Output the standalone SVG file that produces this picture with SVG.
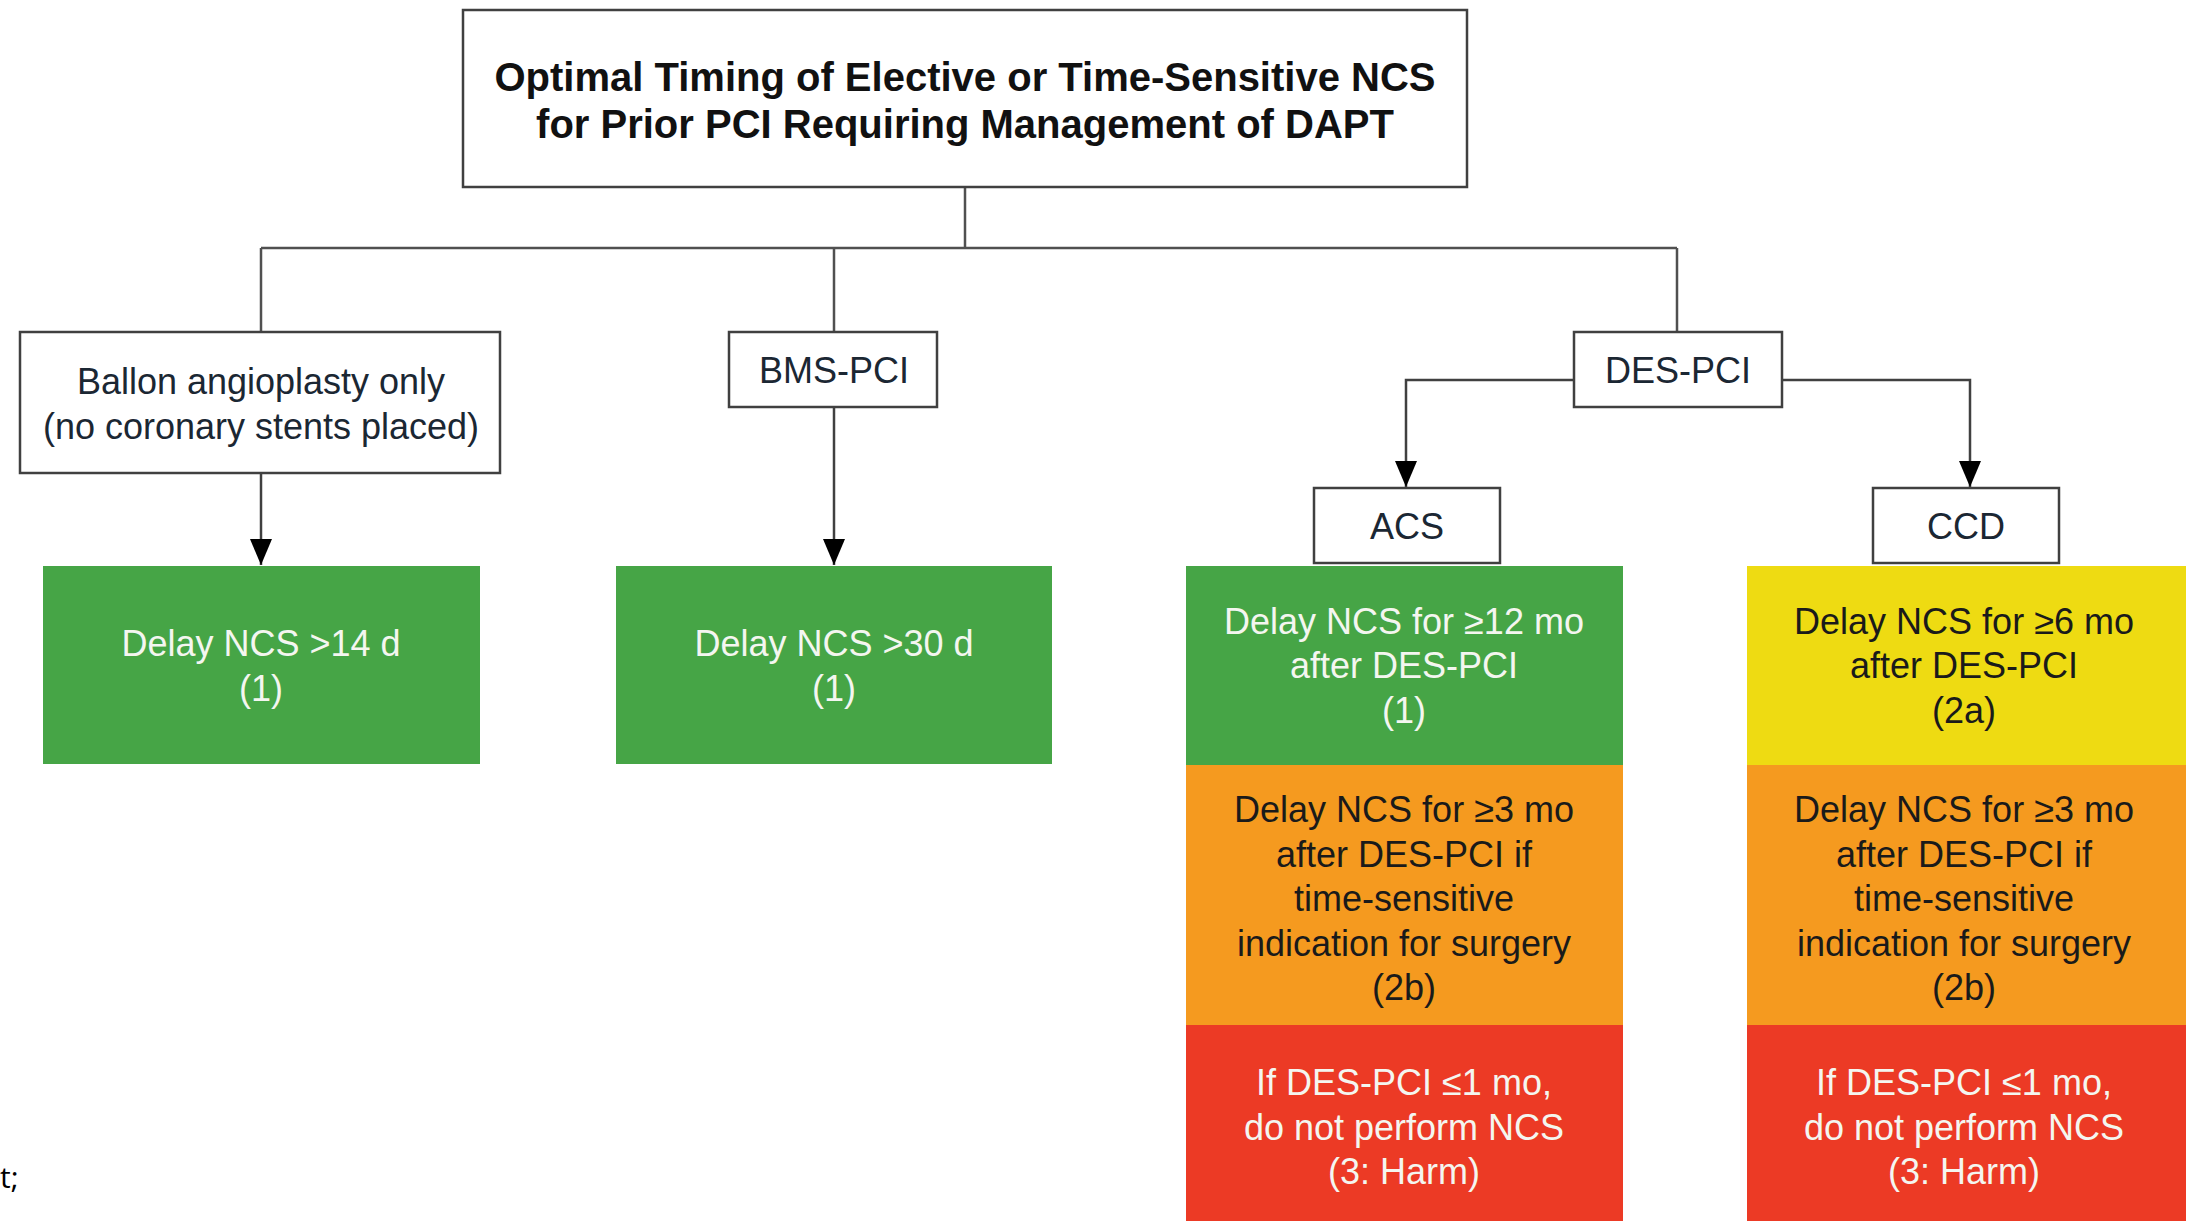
<svg xmlns="http://www.w3.org/2000/svg" width="2186" height="1221" viewBox="0 0 2186 1221">
<style>
.box{fill:#fff;stroke:#404040;stroke-width:2.5}
.t{font-family:"Liberation Sans",Arial,sans-serif;font-size:36px;text-anchor:middle;fill:#1b2733}
.title{font-family:"Liberation Sans",Arial,sans-serif;font-size:40px;font-weight:bold;text-anchor:middle;fill:#111}
.w{fill:#f4f6f0}
.d{fill:#1a1a1a}
.line{fill:none;stroke:#505050;stroke-width:2.5}
.arr{fill:none;stroke:#404040;stroke-width:2.5;marker-end:url(#ah)}
.green{fill:#46a546}
.yellow{fill:#eedb12}
.orange{fill:#f59a1f}
.red{fill:#ec3a25}
</style>
<defs>
<marker id="ah" markerUnits="userSpaceOnUse" markerWidth="26" markerHeight="22" refX="26" refY="11" orient="auto">
<path d="M0,0 L26,11 L0,22 Z" fill="#000"/>
</marker>
</defs>
<rect width="2186" height="1221" fill="#fff"/>
<g id="connectors">
<path class="line" d="M965,187 V248 M261,248 H1677 M261,248 V332 M834,248 V332 M1677,248 V332"/>
<path class="arr" d="M261,473 V565"/>
<path class="arr" d="M834,407 V565"/>
<path class="arr" d="M1574,380 H1406 V487"/>
<path class="arr" d="M1782,380 H1970 V487"/>
</g>
<g id="title">
<rect class="box" x="463" y="10" width="1004" height="177"/>
<text class="title" x="965" y="91">Optimal Timing of Elective or Time-Sensitive NCS</text>
<text class="title" x="965" y="138">for Prior PCI Requiring Management of DAPT</text>
</g>
<g id="ballon">
<rect class="box" x="20" y="332" width="480" height="141"/>
<text class="t" x="261" y="394">Ballon angioplasty only</text>
<text class="t" x="261" y="439">(no coronary stents placed)</text>
</g>
<g id="bms">
<rect class="box" x="729" y="332" width="208" height="75"/>
<text class="t" x="834" y="383">BMS-PCI</text>
</g>
<g id="des">
<rect class="box" x="1574" y="332" width="208" height="75"/>
<text class="t" x="1678" y="383">DES-PCI</text>
</g>
<g id="acs">
<rect class="box" x="1314" y="488" width="186" height="75"/>
<text class="t" x="1407" y="539">ACS</text>
</g>
<g id="ccd">
<rect class="box" x="1873" y="488" width="186" height="75"/>
<text class="t" x="1966" y="539">CCD</text>
</g>
<g id="ballon-result">
<rect class="green" x="43" y="566" width="437" height="198"/>
<text class="t w" x="261" y="656">Delay NCS &gt;14 d</text>
<text class="t w" x="261" y="701">(1)</text>
</g>
<g id="bms-result">
<rect class="green" x="616" y="566" width="436" height="198"/>
<text class="t w" x="834" y="656">Delay NCS &gt;30 d</text>
<text class="t w" x="834" y="701">(1)</text>
</g>
<g id="acs-1">
<rect class="green" x="1186" y="566" width="437" height="199"/>
<text class="t w" x="1404" y="634">Delay NCS for ≥12 mo</text>
<text class="t w" x="1404" y="678">after DES-PCI</text>
<text class="t w" x="1404" y="723">(1)</text>
</g>
<g id="acs-2b">
<rect class="orange" x="1186" y="765" width="437" height="260"/>
<text class="t d" x="1404" y="822">Delay NCS for ≥3 mo</text>
<text class="t d" x="1404" y="867">after DES-PCI if</text>
<text class="t d" x="1404" y="911">time-sensitive</text>
<text class="t d" x="1404" y="956">indication for surgery</text>
<text class="t d" x="1404" y="1000">(2b)</text>
</g>
<g id="acs-3">
<rect class="red" x="1186" y="1025" width="437" height="196"/>
<text class="t w" x="1404" y="1095">If DES-PCI ≤1 mo,</text>
<text class="t w" x="1404" y="1140">do not perform NCS</text>
<text class="t w" x="1404" y="1184">(3: Harm)</text>
</g>
<g id="ccd-2a">
<rect class="yellow" x="1747" y="566" width="439" height="199"/>
<text class="t d" x="1964" y="634">Delay NCS for ≥6 mo</text>
<text class="t d" x="1964" y="678">after DES-PCI</text>
<text class="t d" x="1964" y="723">(2a)</text>
</g>
<g id="ccd-2b">
<rect class="orange" x="1747" y="765" width="439" height="260"/>
<text class="t d" x="1964" y="822">Delay NCS for ≥3 mo</text>
<text class="t d" x="1964" y="867">after DES-PCI if</text>
<text class="t d" x="1964" y="911">time-sensitive</text>
<text class="t d" x="1964" y="956">indication for surgery</text>
<text class="t d" x="1964" y="1000">(2b)</text>
</g>
<g id="ccd-3">
<rect class="red" x="1747" y="1025" width="439" height="196"/>
<text class="t w" x="1964" y="1095">If DES-PCI ≤1 mo,</text>
<text class="t w" x="1964" y="1140">do not perform NCS</text>
<text class="t w" x="1964" y="1184">(3: Harm)</text>
</g>
<text x="0" y="1188" font-family="'Open Sans','Liberation Sans',sans-serif" font-size="30" fill="#000">t;</text>
</svg>
